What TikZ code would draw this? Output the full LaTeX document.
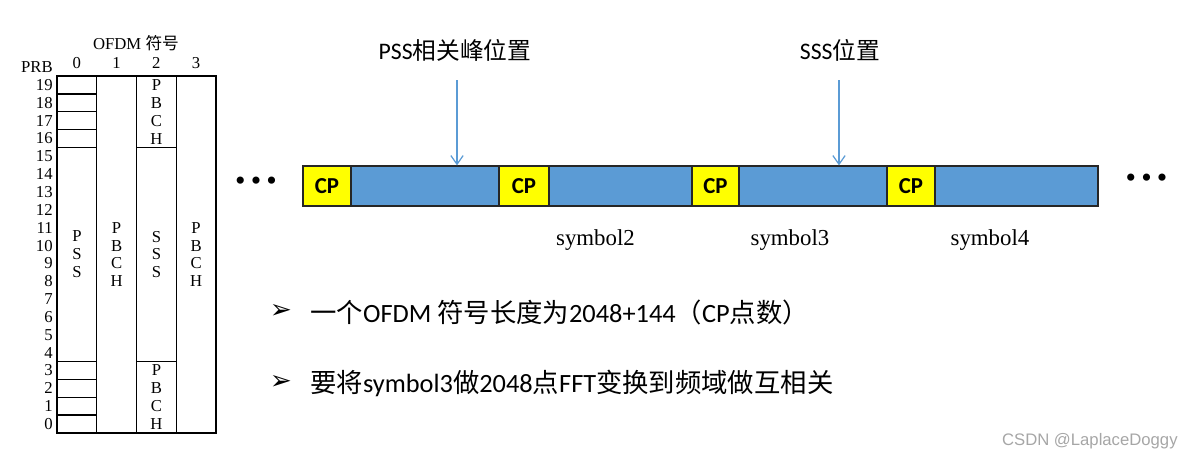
\documentclass[tikz,border=0pt]{standalone}
\usepackage{fontspec}
\setmainfont{Liberation Serif}
\newfontfamily\cjk{Noto Sans CJK SC}
\newfontfamily\calibri{Carlito}
\newfontfamily\dingfont{DejaVu Sans}
\newfontfamily\markfont{Liberation Sans}
\newcommand{\zh}[1]{{\cjk #1}}
\usetikzlibrary{arrows.meta}
\definecolor{symblue}{HTML}{5B9BD5}
\definecolor{cpyellow}{HTML}{FFFF00}
\definecolor{markgray}{HTML}{A6A6A6}

\begin{document}
\begin{tikzpicture}[
      x=0.02cm, y=-0.02cm,
      tblcell/.style={
          rectangle, draw, line width=0.8pt,
          minimum width=0.795cm, minimum height=0.357cm,
          inner sep=0pt
      },
      tblblock/.style={
          tblcell, align=center,
          font=\fontsize{9.5}{10.2}\selectfont
      },
      tbllabel/.style={
          font=\fontsize{9.5}{11}\selectfont, inner sep=0pt
      },
      cpbox/.style={
          rectangle, draw=black!85, line width=0.7pt, fill=cpyellow,
          minimum height=0.8cm, inner sep=0pt,
          font=\calibri\bfseries\fontsize{13}{15}\selectfont
      },
      databox/.style={
          rectangle, draw=black!85, line width=0.7pt, fill=symblue,
          minimum height=0.8cm, inner sep=0pt
      },
      symlabel/.style={font=\fontsize{13}{15}\selectfont},
      poslabel/.style={font=\calibri\fontsize{13.5}{16}\selectfont},
      dotsnode/.style={font=\fontsize{17}{19}\selectfont, inner sep=0pt},
      bulletmark/.style={font=\dingfont\bfseries\fontsize{15}{17}\selectfont, inner sep=0pt},
      bullettext/.style={
          font=\calibri\fontsize{15}{18}\selectfont,
          anchor=west, inner sep=0pt
      },
      markarrow/.style={
          -{Straight Barb[length=5pt,width=7pt]}, symblue, line width=0.7pt
      }
  ]
    \useasboundingbox (0,0) rectangle (1194,460);

    % (a) PRB / OFDM symbol grid
    \node[tbllabel] (ofdm) at (136,43) {OFDM \zh{符号}};
    \node[tbllabel, anchor=base east] (prb) at (53,72.5) {PRB};
    \foreach \c in {0,...,3}
        \node[tbllabel, anchor=base] (col\c) at ({57+39.75*(\c+0.5)},68) {\c};
    \foreach \r in {0,...,19}
        \node[tbllabel, anchor=east] (prb\r) at (53,{433-17.85*(\r+0.5)}) {\r};
    \foreach \r in {0,1,2,3,16,17,18,19}
        \node[tblcell] (cell\r) at (76.9,{433-17.85*(\r+0.5)}) {};
    \node[tblblock, minimum height=4.284cm] (pss) at (76.9,254.5) {P\\S\\S};
    \node[tblblock, minimum height=7.14cm] (pbcha) at (116.6,254.5) {P\\B\\C\\H};
    \node[tblblock, minimum height=1.428cm] (pbchtop) at (156.4,111.7) {P\\B\\C\\H};
    \node[tblblock, minimum height=4.284cm] (sss) at (156.4,254.5) {S\\S\\S};
    \node[tblblock, minimum height=1.428cm] (pbchbot) at (156.4,397.3) {P\\B\\C\\H};
    \node[tblblock, minimum height=7.14cm] (pbchb) at (196.1,254.5) {P\\B\\C\\H};

    % (b) Symbol stream with CP
    \node[dotsnode] (ldots) at (256,184) {\textbullet\hspace{3pt}\textbullet\hspace{3pt}\textbullet};
    \node[cpbox, minimum width=0.96cm] (cp1) at (327,186) {CP};
    \node[databox, minimum width=2.96cm] (body1) at (425,186) {};
    \node[cpbox, minimum width=1.0cm] (cp2) at (524,186) {CP};
    \node[databox, minimum width=2.86cm] (body2) at (620.5,186) {};
    \node[cpbox, minimum width=0.94cm] (cp3) at (715.5,186) {CP};
    \node[databox, minimum width=2.96cm] (body3) at (813,186) {};
    \node[cpbox, minimum width=0.96cm] (cp4) at (911,186) {CP};
    \node[databox, minimum width=3.26cm] (body4) at (1016.5,186) {};
    \node[dotsnode] (rdots) at (1146.5,181) {\textbullet\hspace{3pt}\textbullet\hspace{3pt}\textbullet};

    % (c) Symbol names
    \node[symlabel] (name2) at (595.5,240) {symbol2};
    \node[symlabel] (name3) at (790,240) {symbol3};
    \node[symlabel] (name4) at (990,240) {symbol4};

    % (d) Peak positions
    \node[poslabel] (psspos) at (455,50) {PSS\zh{相关峰位置}};
    \node[poslabel] (ssspos) at (840,50) {SSS\zh{位置}};
    \coordinate (pssarr) at (457,80);
    \coordinate (sssarr) at (839,80);
    \draw[markarrow] (pssarr) -- (pssarr |- body1.north);
    \draw[markarrow] (sssarr) -- (sssarr |- body3.north);

    % (e) Notes
    \node[bulletmark] (mark1) at (281,311) {➢};
    \node[bullettext] (note1) at (310,312) {\zh{一个}OFDM \zh{符号长度为}2048+144\zh{（}CP\zh{点数）}};
    \node[bulletmark] (mark2) at (281,382) {➢};
    \node[bullettext] (note2) at (310,383) {\zh{要将}symbol3\zh{做}2048\zh{点}FFT\zh{变换到频域做互相关}};

    % watermark
    \node[font=\markfont\fontsize{9.5}{11}\selectfont, text=markgray, anchor=east, inner sep=0pt]
        (csdn) at (1178,441) {CSDN @LaplaceDoggy};
\end{tikzpicture}
\end{document}
